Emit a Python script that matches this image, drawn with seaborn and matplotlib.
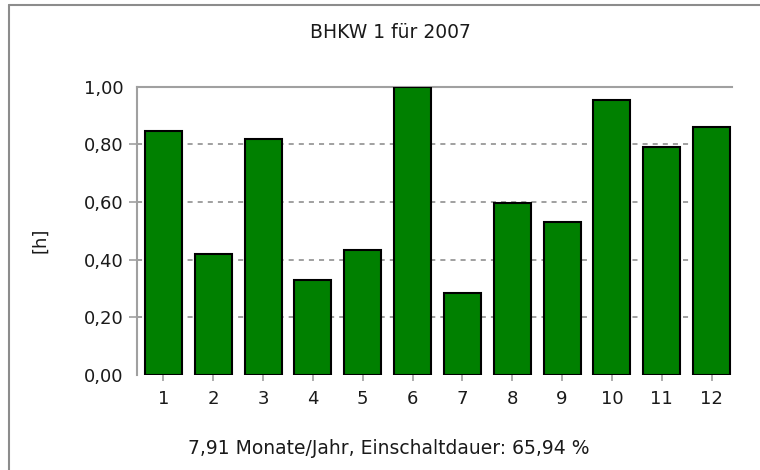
import matplotlib
matplotlib.use('Agg')
import matplotlib.pyplot as plt
from matplotlib.lines import Line2D
import seaborn as sns
import pandas as pd

# Daten
monate = ['1', '2', '3', '4', '5', '6', '7', '8', '9', '10', '11', '12']
stunden = [0.845, 0.42, 0.82, 0.33, 0.435, 1.0, 0.285, 0.595, 0.53, 0.955, 0.79, 0.86]
y_ticks = [0.0, 0.2, 0.4, 0.6, 0.8, 1.0]
y_ticklabels = ['0,00', '0,20', '0,40', '0,60', '0,80', '1,00']

titel = 'BHKW 1 für 2007'
fusszeile = '7,91 Monate/Jahr, Einschaltdauer: 65,94 %'

df = pd.DataFrame({'Monat': monate, 'Wert': stunden})

sns.set_style('white')
plt.rcParams['font.family'] = ['DejaVu Sans']

fig = plt.figure(figsize=(7.6, 4.7), dpi=100)
ax = fig.add_axes([137 / 760, 95 / 470, 595 / 760, 288.3 / 470])

sns.barplot(data=df, x='Monat', y='Wert', color='#008000', saturation=1,
            edgecolor='black', linewidth=1.5, width=0.74, ax=ax, zorder=3)

ax.set_xlim(-0.53, 11.41)
ax.set_ylim(0, 1.0)
ax.set_yticks(y_ticks)
ax.set_yticklabels(y_ticklabels)
ax.set_xlabel('')
ax.set_ylabel('')

# Gitterlinien gestrichelt, nicht bei 0 und 1
ax.yaxis.grid(True, color='#a0a0a0', linewidth=1.4, linestyle=(0, (2.6, 2.6)))
ax.xaxis.grid(False)
ax.set_axisbelow(True)
gl = ax.get_ygridlines()
gl[0].set_visible(False)
gl[-1].set_visible(False)

for s in ['right', 'bottom']:
    ax.spines[s].set_visible(False)
for s in ['left', 'top']:
    ax.spines[s].set_color('#a0a0a0')
    ax.spines[s].set_linewidth(1.5)

ax.tick_params(axis='y', length=6, width=1.2, color='#a0a0a0', pad=3.5,
               labelsize=13, labelcolor='#1a1a1a', left=True)
ax.tick_params(axis='x', length=4, width=1.2, color='#a0a0a0', pad=7,
               labelsize=13, labelcolor='#1a1a1a', bottom=True)
yt = ax.yaxis.get_major_ticks()
yt[0].tick1line.set_visible(False)
yt[-1].tick1line.set_visible(False)

fig.text(390 / 760, 1 - 32 / 470, titel, ha='center', va='center',
         fontsize=13.5, color='#1a1a1a')
fig.text(389 / 760, 1 - 448 / 470, fusszeile, ha='center', va='center',
         fontsize=13.5, color='#1a1a1a')
fig.text(40 / 760, 1 - 240 / 470, '[h]', ha='center', va='center',
         rotation=90, fontsize=13, color='#1a1a1a')

# Rahmen links und oben
fig.add_artist(Line2D([8.5 / 760, 8.5 / 760], [0, 1 - 4.5 / 470],
                      transform=fig.transFigure, color='#8c8c8c', lw=1.5))
fig.add_artist(Line2D([8.5 / 760, 1], [1 - 4.5 / 470, 1 - 4.5 / 470],
                      transform=fig.transFigure, color='#8c8c8c', lw=1.5))

fig.savefig('out.png', dpi=100, facecolor='white')
